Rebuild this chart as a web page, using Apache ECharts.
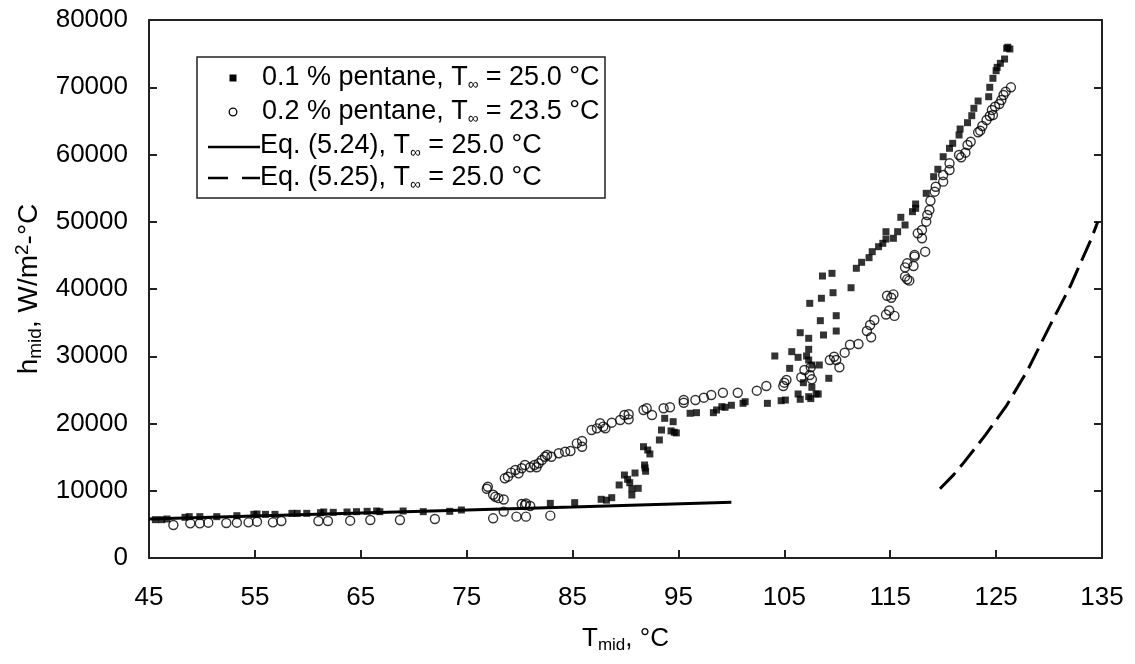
<!DOCTYPE html>
<html><head><meta charset="utf-8">
<script src="https://cdn.jsdelivr.net/npm/echarts@6/dist/echarts.min.js"></script>
<style>html,body{margin:0;padding:0;background:#fff}#c{width:1135px;height:664px}</style>
</head><body><div id="c"></div>
<script>
// x axis ticks (°C) and y axis ticks (W/m2-°C)
const xMin = 45, xMax = 135, xStep = 10;
const yMin = 0, yMax = 80000, yStep = 10000;

// 0.1 % pentane, T∞ = 25.0 °C  (filled squares) [Tmid, hmid]
const pentane01 = [
  [44.8,5750],[45.6,5700],[46.2,5700],[46.7,5800],[48.4,6050],[48.8,6150],[49.8,6150],[51.4,6150],
  [53.3,6290],[54.9,6490],[55.2,6540],[56.0,6490],[56.9,6490],[58.5,6640],[59.0,6640],[59.9,6640],
  [61.2,6740],[61.5,6840],[62.4,6790],[63.7,6840],[64.6,6890],[65.6,6940],[66.5,6990],[66.8,6890],
  [69.0,6990],[70.9,6890],[73.4,6940],[74.5,7140],
  [82.9,8130],[85.2,8230],[87.7,8730],[88.2,8600],[88.7,8970],[89.4,10860],[89.9,12340],[90.2,11700],
  [90.4,11200],[90.6,10300],[90.6,9370],[90.9,12640],[91.2,10360],[91.7,16550],[92.1,16060],[92.3,15470],
  [91.8,13830],[91.85,13380],[91.9,12900],[93.2,17550],[93.4,19030],[93.7,20770],[94.3,18900],[94.6,18700],
  [94.8,18600],[94.5,20270],[96.1,21520],[96.7,21610],[98.3,21610],[98.6,22010],[99.1,22500],[99.4,22410],
  [100.0,22710],[101.1,23000],[101.3,23240],[103.4,23000],[104.7,23390],[105.1,23490],[106.3,24390],
  [106.5,23600],[107.3,23990],[107.5,23700],[108.0,24390],[108.2,24390],[107.6,25380],[106.8,26070],
  [109.2,26720],[105.5,28200],[108.3,28700],[107.6,28700],[107.3,29440],[107.1,30040],[106.3,29840],
  [105.7,30680],[104.1,30040],[107.3,31030],[107.3,32670],[106.5,33500],[108.7,33160],[109.9,33750],
  [108.4,35290],[109.9,36030],[107.4,37870],[108.5,38620],[109.6,39450],[111.3,40190],[108.6,41930],
  [109.5,42330],[111.8,43080],[112.3,43970],[113.0,44660],[113.3,45550],[113.9,46290],[114.3,46790],
  [114.6,47430],[114.6,48520],[115.3,47540],[115.7,48520],[116.4,49520],[116.0,50660],[117.1,51500],
  [117.4,52000],[117.4,52640],[118.4,54230],[119.1,56700],[119.5,57800],[120.0,59670],[120.6,60920],
  [120.9,61660],[121.5,62900],[121.6,63790],[122.3,64730],[122.7,65770],[122.9,66870],[123.3,67950],
  [124.3,68590],[124.4,69990],[124.7,71330],[125.0,72460],[125.1,72960],[125.4,73560],[125.8,74200],
  [126.0,75790],[126.3,75690],[126.1,75950]
];

// 0.2 % pentane, T∞ = 23.5 °C  (open circles) [Tmid, hmid]
const pentane02 = [
  [47.3,4900],[48.9,5150],[49.8,5150],[50.6,5250],[52.3,5200],[53.3,5250],[54.4,5300],[55.2,5400],
  [56.7,5300],[57.5,5500],[61.0,5500],[61.9,5500],[64.0,5550],[65.9,5650],[68.7,5650],[72.0,5800],
  [77.5,5900],[78.5,6900],[79.7,6150],[80.6,6150],[80.6,8100],[82.9,6300],[80.2,8030],[80.5,7880],[81.0,7730],
  [76.9,10300],[77.0,10600],[77.5,9400],[77.7,9100],[78.0,8900],[78.5,8700],[78.6,11850],[78.9,12090],
  [79.2,12690],[79.6,13090],[79.9,12590],[80.2,13340],[80.5,13830],[81.0,13490],[81.4,13830],[81.6,13490],
  [81.8,14080],[82.1,14570],[82.4,15060],[82.6,15320],[83.0,15060],[83.7,15570],[84.3,15810],[84.8,15910],
  [85.4,17050],[85.9,17400],[85.9,16550],[86.8,19030],[87.3,19280],[87.6,20030],[87.9,19530],[88.1,19280],
  [88.7,20120],[89.5,20520],[89.9,21260],[90.3,21370],[90.3,20620],[91.7,22010],[92.0,22260],[92.5,21260],
  [93.6,22260],[94.2,22410],[95.5,23490],[95.5,23090],[96.6,23490],[97.4,23840],[98.1,24240],[99.2,24580],
  [100.6,24580],[102.4,24880],[103.3,25580],[104.9,25580],[105.0,26070],[105.2,26470],[106.6,26870],
  [106.9,27960],[107.5,28360],[107.4,27210],[107.6,26570],[109.3,29440],[109.7,29930],[109.9,29440],
  [110.2,28360],[110.7,30530],[111.2,31720],[112.0,31820],[112.8,33750],[113.1,34650],[113.5,35390],
  [113.2,32820],[114.6,36200],[114.9,36800],[115.1,38700],[114.7,39000],[115.3,39200],[115.4,36000],
  [116.4,41840],[116.6,41440],[116.8,41240],[116.4,43220],[116.6,43820],[117.2,43420],[117.3,44810],
  [117.3,45060],[118.3,45550],[117.6,48280],[118.0,47540],[118.0,48770],[118.4,50010],[118.5,51000],
  [118.7,51750],[118.8,53130],[119.2,54470],[119.3,55210],[120.0,55960],[120.0,56950],[120.6,57700],
  [120.6,58690],[121.5,59930],[121.7,59580],[122.1,60270],[122.3,61410],[122.6,61900],[123.3,63300],
  [123.5,63540],[123.7,64240],[124.1,65130],[124.4,65720],[124.7,65870],[124.6,66620],[124.9,67110],
  [125.3,67510],[125.5,68100],[125.7,68850],[125.9,69340],[126.4,69990]
];

// Eq. (5.24), T∞ = 25.0 °C (solid line)
const eq524 = [[45,5800],[55,6250],[65,6700],[75,7150],[85,7600],[100,8300]];

// Eq. (5.25), T∞ = 25.0 °C (dashed line)
const eq525 = [[119.7,10300],[121,12400],[122,14300],[124,18300],[126,22700],[128,28000],
               [130,34300],[132,40400],[134,47500],[134.6,50000]];

const FONT = "'Liberation Sans', Arial, sans-serif";
const chart = echarts.init(document.getElementById('c'));

const legendRows = [
  {y: 78, text: '0.1 % pentane, T{s|∞} = 25.0 °C', x: 262},
  {y: 112, text: '0.2 % pentane, T{s|∞} = 23.5 °C', x: 262},
  {y: 146, text: 'Eq. (5.24), T{s|∞} = 25.0 °C', x: 260},
  {y: 178, text: 'Eq. (5.25), T{s|∞} = 25.0 °C', x: 260}
];
const richLeg = {s: {fontSize: 15, fontFamily: FONT, lineHeight: 14, verticalAlign: 'bottom', fill: '#000'}};

const graphics = [
  {type: 'rect', shape: {x: 197, y: 57, width: 408, height: 141},
   style: {fill: '#fff', stroke: '#222', lineWidth: 1.5}, z: 10},
  {type: 'rect', shape: {x: 229.5, y: 74.5, width: 7, height: 7}, style: {fill: '#000'}, z: 11},
  {type: 'circle', shape: {cx: 233, cy: 112, r: 3.8}, style: {fill: 'none', stroke: '#000', lineWidth: 1.3}, z: 11},
  {type: 'line', shape: {x1: 208, y1: 147, x2: 260, y2: 147}, style: {stroke: '#000', lineWidth: 2.5}, z: 11},
  {type: 'line', shape: {x1: 208, y1: 178, x2: 260, y2: 178}, style: {stroke: '#000', lineWidth: 2.5, lineDash: [20, 14]}, z: 11}
];
legendRows.forEach(r => graphics.push({
  type: 'text', z: 11, x: r.x, y: r.y,
  style: {text: r.text, fontSize: 27, fontFamily: FONT, fill: '#000', verticalAlign: 'middle',
          lineHeight: 28, rich: richLeg}
}));

const axisLineStyle = {color: '#222', width: 2};

chart.setOption({
  backgroundColor: '#fff',
  animation: false,
  grid: {left: 149, right: 33, top: 20, bottom: 106, containLabel: false},
  xAxis: [{
    type: 'value', min: xMin, max: xMax, interval: xStep, position: 'bottom',
    axisLine: {show: true, onZero: false, lineStyle: axisLineStyle},
    axisTick: {show: true, inside: true, length: 8, lineStyle: {color: '#222', width: 2}},
    axisLabel: {color: '#000', fontSize: 26, fontFamily: FONT, margin: 27, formatter: v => String(v)},
    splitLine: {show: false},
    name: '{t|T}{s|mid}{t|, °C}', nameLocation: 'middle', nameGap: 66,
    nameTextStyle: {rich: {
      t: {fontSize: 26, fontFamily: FONT, color: '#000', lineHeight: 30, verticalAlign: 'middle'},
      s: {fontSize: 17, fontFamily: FONT, color: '#000', lineHeight: 14, verticalAlign: 'bottom'}
    }}
  }, {
    type: 'value', min: xMin, max: xMax, interval: xStep, position: 'top',
    axisLine: {show: true, onZero: false, lineStyle: axisLineStyle},
    axisTick: {show: false}, axisLabel: {show: false}, splitLine: {show: false}
  }],
  yAxis: [{
    type: 'value', min: yMin, max: yMax, interval: yStep, position: 'left',
    axisLine: {show: true, onZero: false, lineStyle: axisLineStyle},
    axisTick: {show: true, inside: true, length: 8, lineStyle: {color: '#222', width: 2}},
    axisLabel: {color: '#000', fontSize: 26, fontFamily: FONT, margin: 21, formatter: v => String(v)},
    splitLine: {show: false},
    name: '{t|h}{s|mid}{t|, W/m}{p|2}{t|-°C}', nameLocation: 'middle', nameGap: 93, nameRotate: 90,
    nameTextStyle: {rich: {
      t: {fontSize: 28, fontFamily: FONT, color: '#000', lineHeight: 32, verticalAlign: 'middle'},
      s: {fontSize: 19, fontFamily: FONT, color: '#000', lineHeight: 15, verticalAlign: 'bottom'},
      p: {fontSize: 19, fontFamily: FONT, color: '#000', lineHeight: 17, verticalAlign: 'top'}
    }}
  }, {
    type: 'value', min: yMin, max: yMax, interval: yStep, position: 'right',
    axisLine: {show: true, onZero: false, lineStyle: axisLineStyle},
    axisTick: {show: true, inside: true, length: 8, lineStyle: {color: '#222', width: 2}},
    axisLabel: {show: false}, splitLine: {show: false}
  }],
  series: [
    {name: 'Eq. (5.24)', type: 'line', data: eq524, showSymbol: false, symbol: 'none',
     lineStyle: {color: '#000', width: 3}, z: 3},
    {name: 'Eq. (5.25)', type: 'line', data: eq525, showSymbol: false, symbol: 'none',
     lineStyle: {color: '#000', width: 3, type: [22, 8]}, z: 3},
    {name: '0.1 % pentane', type: 'scatter', data: pentane01, symbol: 'rect', symbolSize: 7,
     itemStyle: {color: '#000'}, z: 4},
    {name: '0.2 % pentane', type: 'scatter', data: pentane02, symbol: 'circle', symbolSize: 9,
     itemStyle: {color: 'rgba(0,0,0,0)', borderColor: '#000', borderWidth: 1.4}, z: 4}
  ],
  graphic: graphics
});
</script>
</body></html>
